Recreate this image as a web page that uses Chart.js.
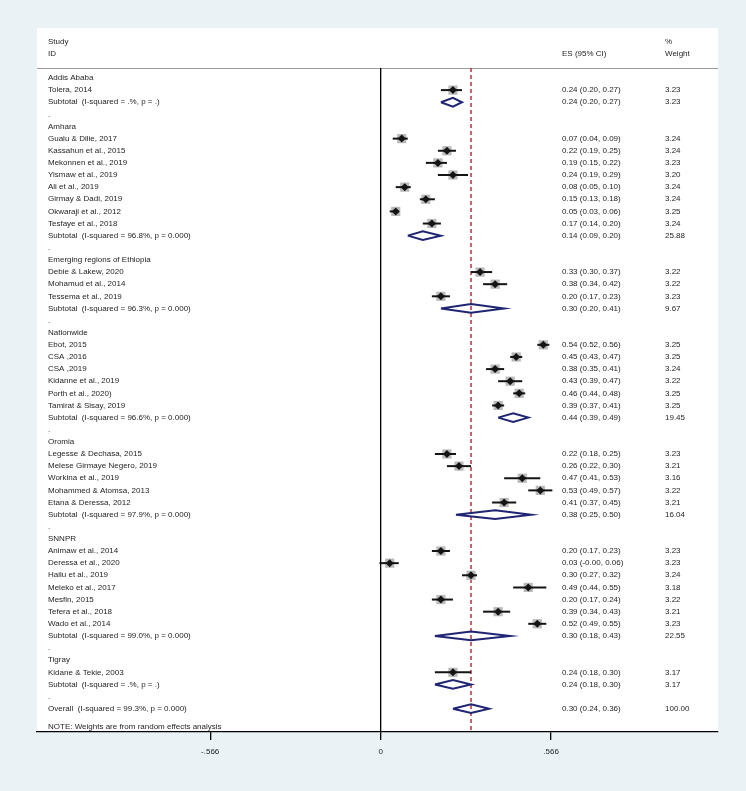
<!DOCTYPE html>
<html>
<head>
<meta charset="utf-8">
<script src="https://cdn.jsdelivr.net/npm/chart.js@4"></script>
<style>
  html, body { margin: 0; padding: 0; background: #eaf2f6; }
  #wrap { width: 746px; height: 791px; }
  canvas { display: block; }
</style>
</head>
<body>
<div id="wrap"><canvas id="forest"></canvas></div>
<script>
// groups (regions) and their subtotal rows
const groups = ["Addis Ababa", "Amhara", "Emerging regions of Ethiopia", "Nationwide", "Oromia", "SNNPR", "Tigray"];
const subI2 = [".%", "96.8%", "96.3%", "96.6%", "97.9%", "99.0%", ".%"];
const subP = [".", "0.000", "0.000", "0.000", "0.000", "0.000", "."];
const subES = [0.24, 0.14, 0.30, 0.44, 0.38, 0.30, 0.24];
const subLo = [0.20, 0.09, 0.20, 0.39, 0.25, 0.18, 0.18];
const subHi = [0.27, 0.20, 0.41, 0.49, 0.50, 0.43, 0.30];
const subW = [3.23, 25.88, 9.67, 19.45, 16.04, 22.55, 3.17];

// individual studies
const studyNames = [
  "Tolera, 2014",
  "Gualu & Dilie, 2017", "Kassahun et al., 2015", "Mekonnen et al., 2019", "Yismaw et al., 2019",
  "Ali et al., 2019", "Girmay & Dadi, 2019", "Okwaraji et al., 2012", "Tesfaye et al., 2018",
  "Debie & Lakew, 2020", "Mohamud et al., 2014", "Tessema et al., 2019",
  "Ebot, 2015", "CSA ,2016", "CSA ,2019", "Kidanne et al., 2019", "Porth et al., 2020)", "Tamirat & Sisay, 2019",
  "Legesse & Dechasa, 2015", "Melese Girmaye Negero, 2019", "Workina et al., 2019", "Mohammed & Atomsa, 2013", "Etana & Deressa, 2012",
  "Animaw et al., 2014", "Deressa et al., 2020", "Hailu et al., 2019", "Meleko et al., 2017", "Mesfin, 2015", "Tefera et al., 2018", "Wado et al., 2014",
  "Kidane & Tekie, 2003"
];
const studyGroup = [0, 1,1,1,1,1,1,1,1, 2,2,2, 3,3,3,3,3,3, 4,4,4,4,4, 5,5,5,5,5,5,5, 6];
const es = [0.24, 0.07,0.22,0.19,0.24,0.08,0.15,0.05,0.17, 0.33,0.38,0.20, 0.54,0.45,0.38,0.43,0.46,0.39,
            0.22,0.26,0.47,0.53,0.41, 0.20,0.03,0.30,0.49,0.20,0.39,0.52, 0.24];
const lo = [0.20, 0.04,0.19,0.15,0.19,0.05,0.13,0.03,0.14, 0.30,0.34,0.17, 0.52,0.43,0.35,0.39,0.44,0.37,
            0.18,0.22,0.41,0.49,0.37, 0.17,-0.004,0.27,0.44,0.17,0.34,0.49, 0.18];
const hi = [0.27, 0.09,0.25,0.22,0.29,0.10,0.18,0.06,0.20, 0.37,0.42,0.23, 0.56,0.47,0.41,0.47,0.48,0.41,
            0.25,0.30,0.53,0.57,0.45, 0.23,0.06,0.32,0.55,0.24,0.43,0.55, 0.30];
const weight = [3.23, 3.24,3.24,3.23,3.20,3.24,3.24,3.25,3.24, 3.22,3.22,3.23, 3.25,3.25,3.24,3.22,3.25,3.25,
                3.23,3.21,3.16,3.22,3.21, 3.23,3.23,3.24,3.18,3.22,3.21,3.23, 3.17];

// overall pooled estimate
const overallI2 = "99.3%";
const overallP = "0.000";
const overall = { es: 0.30, lo: 0.24, hi: 0.36, w: 100.00 };

// x axis ticks
const tickValues = [-0.566, 0, 0.566];
const tickLabels = ["-.566", "0", ".566"];

// build the rows top to bottom
const rows = [];
let r = 1;
groups.forEach((g, gi) => {
  rows.push({ row: r++, kind: "head", text: g });
  studyNames.forEach((n, i) => {
    if (studyGroup[i] === gi) {
      rows.push({ row: r++, kind: "study", text: n, es: es[i], lo: lo[i], hi: hi[i], w: weight[i] });
    }
  });
  rows.push({ row: r++, kind: "sub", text: "Subtotal  (I-squared = " + subI2[gi] + ", p = " + subP[gi] + ")",
              es: subES[gi], lo: subLo[gi], hi: subHi[gi], w: subW[gi] });
  rows.push({ row: r++, kind: "dot", text: "." });
});
rows.push({ row: r, kind: "sub", text: "Overall  (I-squared = " + overallI2 + ", p = " + overallP + ")",
            es: overall.es, lo: overall.lo, hi: overall.hi, w: overall.w });
const noteRow = r + 1.5;

const yMin = -3.12, yMax = 54.92;
const headRow = 0.18;
const dH = 0.36; // half height of diamonds in row units

const studyRows = rows.filter(d => d.kind === "study");
const subRows = rows.filter(d => d.kind === "sub");

const datasets = [];
// grey weight boxes
datasets.push({
  data: studyRows.map(d => ({ x: d.es, y: d.row })),
  pointStyle: "rect", pointRadius: 6.5, backgroundColor: "#b9b9b9", borderWidth: 0, order: 3
});
// confidence intervals
studyRows.forEach(d => {
  datasets.push({
    data: [{ x: d.lo, y: d.row }, { x: d.hi, y: d.row }],
    showLine: true, borderColor: "#141414", borderWidth: 2, pointRadius: 0, order: 2
  });
});
// point estimates
datasets.push({
  data: studyRows.map(d => ({ x: d.es, y: d.row })),
  pointStyle: "rectRot", pointRadius: 4, backgroundColor: "#141414", borderWidth: 0, order: 1
});
// subtotal and overall diamonds
subRows.forEach(d => {
  datasets.push({
    data: [{ x: d.lo, y: d.row }, { x: d.es, y: d.row - dH }, { x: d.hi, y: d.row },
           { x: d.es, y: d.row + dH }, { x: d.lo, y: d.row }],
    showLine: true, borderColor: "#1f2573", borderWidth: 2, borderJoinStyle: "miter",
    pointRadius: 0, fill: false, order: 1
  });
});
// null line
datasets.push({
  data: [{ x: 0, y: headRow }, { x: 0, y: yMax }],
  showLine: true, borderColor: "#000", borderWidth: 1.3, pointRadius: 0, order: 5
});
// overall effect line
datasets.push({
  data: [{ x: overall.es, y: headRow }, { x: overall.es, y: yMax }],
  showLine: true, borderColor: "#b3343f", borderWidth: 1.5, borderDash: [4, 3], pointRadius: 0, order: 4
});

const FONT = '8px "Liberation Sans", Arial, sans-serif';
const colLabel = 48, colES = 562, colW = 665;

const panelPlugin = {
  id: "panel",
  beforeDraw(chart) {
    const { ctx, chartArea: a, scales: { y } } = chart;
    ctx.save();
    ctx.fillStyle = "#eaf2f6";
    ctx.fillRect(0, 0, chart.width, chart.height);
    ctx.fillStyle = "#ffffff";
    ctx.fillRect(a.left, a.top, a.right - a.left, a.bottom - a.top);
    const hy = Math.round(y.getPixelForValue(headRow)) + 0.5;
    ctx.strokeStyle = "#9a9a9a";
    ctx.lineWidth = 1;
    ctx.beginPath(); ctx.moveTo(a.left, hy); ctx.lineTo(a.right, hy); ctx.stroke();
    ctx.restore();
  },
  afterDatasetsDraw(chart) {
    const { ctx, scales: { y } } = chart;
    ctx.save();
    ctx.font = FONT;
    ctx.fillStyle = "#1e1e1e";
    ctx.textBaseline = "middle";
    ctx.textAlign = "left";
    const y1 = y.getPixelForValue(-1.97), y2 = y.getPixelForValue(-0.98);
    ctx.fillText("Study", colLabel, y1);
    ctx.fillText("ID", colLabel, y2);
    ctx.fillText("ES (95% CI)", colES, y2);
    ctx.fillText("%", colW, y1);
    ctx.fillText("Weight", colW, y2);
    rows.forEach(d => {
      const py = y.getPixelForValue(d.row);
      ctx.fillText(d.text, colLabel, py);
      if (d.kind === "study" || d.kind === "sub") {
        ctx.fillText(d.es.toFixed(2) + " (" + d.lo.toFixed(2) + ", " + d.hi.toFixed(2) + ")", colES, py);
        ctx.fillText(d.w.toFixed(2), colW, py);
      }
    });
    ctx.fillText("NOTE: Weights are from random effects analysis", colLabel, y.getPixelForValue(noteRow));
    ctx.restore();
  }
};

new Chart(document.getElementById("forest"), {
  type: "scatter",
  data: { datasets },
  options: {
    responsive: true,
    maintainAspectRatio: false,
    animation: false,
    events: [],
    layout: { padding: { left: 37, right: 28, top: 28, bottom: 0 } },
    plugins: { legend: { display: false }, tooltip: { enabled: false } },
    scales: {
      x: {
        type: "linear", min: -1.141, max: 1.12,
        afterBuildTicks: s => { s.ticks = tickValues.map(v => ({ value: v })); },
        afterFit: s => { s.height = 59; },
        ticks: {
          font: { family: '"Liberation Sans", Arial, sans-serif', size: 8 },
          color: "#1e1e1e", padding: 7, maxRotation: 0, autoSkip: false,
          callback: (v, i) => tickLabels[i]
        },
        grid: { drawOnChartArea: false, drawTicks: true, tickLength: 8, color: "#000", lineWidth: 1.3 },
        border: { display: true, color: "#000", width: 1.3 }
      },
      y: { type: "linear", display: false, reverse: true, min: yMin, max: yMax }
    }
  },
  plugins: [panelPlugin]
});
</script>
</body>
</html>
